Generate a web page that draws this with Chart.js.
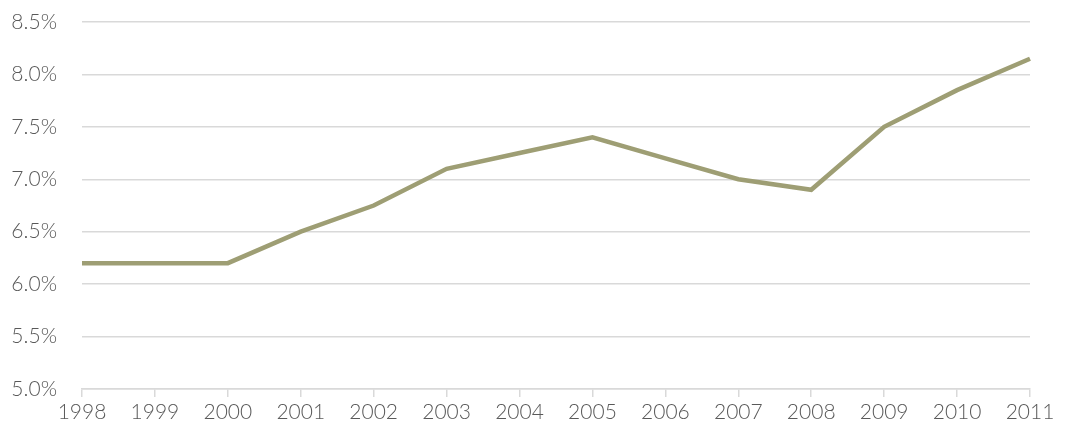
<!DOCTYPE html>
<html>
<head>
<meta charset="utf-8">
<script src="https://cdn.jsdelivr.net/npm/chart.js@4"></script>
<style>
  html, body { margin: 0; padding: 0; background: #fff; }
  #wrap { width: 1071px; height: 445px; position: relative; }
</style>
</head>
<body>
<div id="wrap"><canvas id="chart"></canvas></div>
<script>
// data
const years = ['1998', '1999', '2000', '2001', '2002', '2003', '2004', '2005', '2006', '2007', '2008', '2009', '2010', '2011'];
const rates = [6.2, 6.2, 6.2, 6.5, 6.75, 7.1, 7.25, 7.4, 7.2, 7.0, 6.9, 7.5, 7.85, 8.15];
const yMin = 5.0, yMax = 8.5, yStep = 0.5;

const gridGray = '#d9d9d9';
const textGray = '#595959';
const labelFont = { family: 'Lato', size: 21, weight: '300' };

new Chart(document.getElementById('chart'), {
    type: 'line',
    data: {
        labels: years,
        datasets: [{
            data: rates,
            borderColor: '#9e9e74',
            borderWidth: 4.5,
            pointRadius: 0,
            tension: 0,
            fill: false
        }]
    },
    options: {
        responsive: true,
        maintainAspectRatio: false,
        animation: false,
        layout: { padding: { top: 22, right: 41, left: 0, bottom: 0 } },
        plugins: { legend: { display: false }, tooltip: { enabled: false } },
        scales: {
            x: {
                offset: false,
                grid: { drawOnChartArea: false, drawTicks: true, tickLength: 8, color: gridGray, lineWidth: 1.5 },
                border: { color: gridGray, width: 1.5 },
                ticks: { color: textGray, font: labelFont, padding: 3, maxRotation: 0, autoSkip: false },
                afterFit(scale) { scale.height = 56; scale.paddingLeft = 0; scale.paddingRight = 0; }
            },
            y: {
                min: yMin, max: yMax,
                grid: { color: gridGray, lineWidth: 1.5, drawTicks: false },
                border: { display: false },
                ticks: {
                    stepSize: yStep,
                    color: textGray,
                    font: labelFont,
                    padding: 25,
                    callback: v => v.toFixed(1) + '%'
                },
                // keep the tick padding from pushing the plot area down
                afterFit(scale) { scale.width = 82; scale.paddingTop = 0; scale.paddingBottom = 0; }
            }
        }
    }
});
</script>
</body>
</html>
